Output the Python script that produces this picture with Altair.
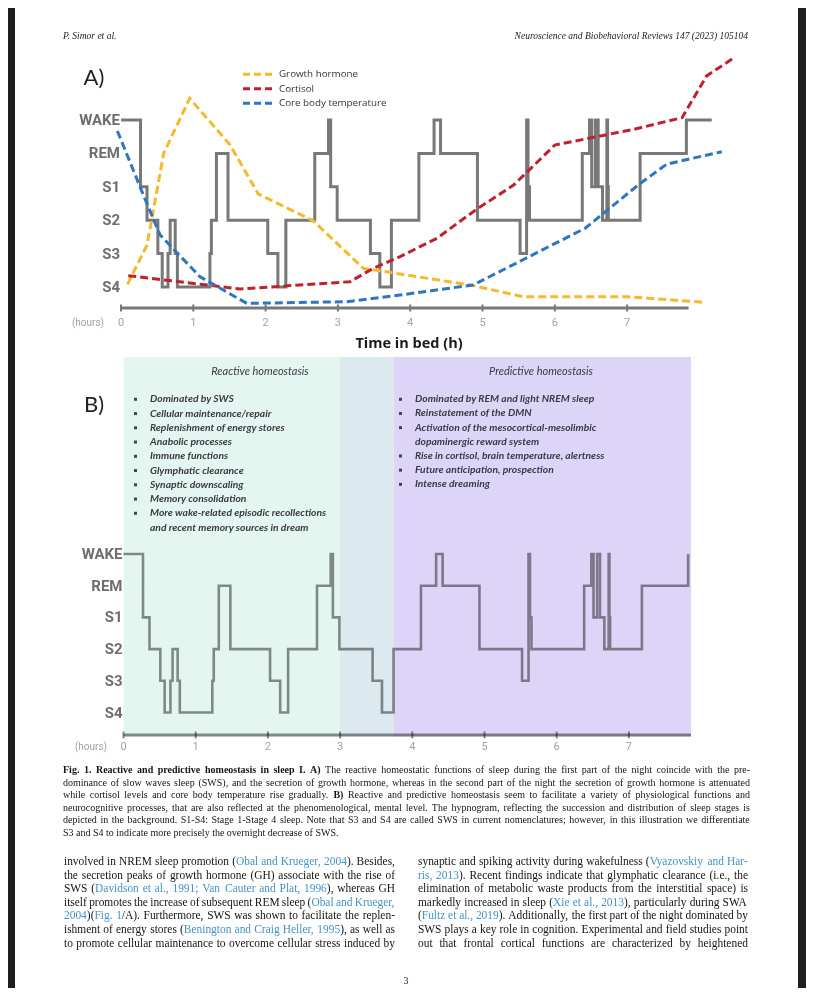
import altair as alt
import pandas as pd

# ---------------- data ----------------
STAGES = ["WAKE", "REM", "S1", "S2", "S3", "S4"]

hyp_hours = [0.00, 0.27, 0.36, 0.51, 0.57, 0.65, 0.68, 0.75, 0.78, 1.23, 1.25, 1.32, 1.48, 2.03,
             2.17, 2.28, 2.68, 2.87, 2.90, 2.99, 3.45, 3.58, 3.74, 4.12, 4.33, 4.42, 4.93, 5.52,
             5.61, 5.63, 5.65, 6.38, 6.48, 6.51, 6.56, 6.60, 6.66, 6.72, 6.73, 6.74, 7.18, 7.82]
hyp_stage = ["WAKE", "S1", "S2", "S3", "S4", "S3", "S2", "S3", "S4", "S3", "S2", "REM", "S2", "S3",
             "S4", "S2", "REM", "WAKE", "S1", "S2", "S3", "S4", "S2", "REM", "WAKE", "REM", "S2", "S3",
             "WAKE", "S1", "S2", "REM", "WAKE", "S1", "WAKE", "S1", "S2", "WAKE", "S1", "S2", "REM", "WAKE"]
hyp_tail_a = 8.17          # panel A: wake continues to here
axis_end_a = 7.85
axis_end_b = 7.86

series_names = ["Growth hormone", "Cortisol", "Core body temperature"]
series_colors = ["#f4b92c", "#c0222c", "#2e76bf"]
gh_hours = [0.09, 0.36, 0.42, 0.59, 0.95, 1.51, 1.90, 2.66, 3.35, 3.86, 4.83, 5.56, 7.00, 8.08]
gh_level = [4.92, 3.74, 3.04, 1.00, -0.65, 0.75, 2.22, 3.02, 4.44, 4.61, 4.94, 5.29, 5.29, 5.46]
cort_hours = [0.10, 1.65, 3.17, 3.49, 3.86, 4.37, 4.92, 5.43, 6.00, 7.09, 7.76, 8.10, 8.49]
cort_level = [4.66, 5.06, 4.84, 4.44, 4.09, 3.54, 2.67, 1.95, 0.75, 0.28, -0.07, -1.32, -1.88]
temp_hours = [-0.05, 0.31, 0.54, 1.09, 1.74, 3.12, 3.86, 4.87, 6.42, 7.18, 7.55, 8.31]
temp_level = [0.33, 2.25, 3.44, 4.69, 5.49, 5.44, 5.24, 4.94, 3.24, 1.90, 1.32, 0.95]

hour_ticks = [0, 1, 2, 3, 4, 5, 6, 7]

region_names = ["Reactive", "Overlap", "Predictive"]
region_start = [0.0, 3.0, 3.74]
region_end = [3.0, 3.74, 7.86]
region_colors = ["#e3f7f0", "#dce9ee", "#ddd5f7"]

reactive_title = "Reactive homeostasis"
predictive_title = "Predictive homeostasis"
reactive_lines = ["Dominated by SWS", "Cellular maintenance/repair", "Replenishment of energy stores",
                  "Anabolic processes", "Immune functions", "Glymphatic clearance",
                  "Synaptic downscaling", "Memory consolidation",
                  "More wake-related episodic recollections", "and recent memory sources in dream"]
reactive_bullet = [1, 1, 1, 1, 1, 1, 1, 1, 1, 0]
predictive_lines = ["Dominated by REM and light NREM sleep", "Reinstatement of the DMN",
                    "Activation of the mesocortical-mesolimbic", "dopaminergic reward system",
                    "Rise in cortisol, brain temperature, alertness", "Future anticipation, prospection",
                    "Intense dreaming"]
predictive_bullet = [1, 1, 1, 0, 1, 1, 1]

header_left = "P. Simor et al."
header_right = "Neuroscience and Biobehavioral Reviews 147 (2023) 105104"

caption_lines = [
    "*Fig. 1. Reactive and predictive homeostasis in sleep I. A)* The reactive homeostatic functions of sleep during the first part of the night coincide with the pre-",
    "dominance of slow waves sleep (SWS), and the secretion of growth hormone, whereas in the second part of the night the secretion of growth hormone is attenuated",
    "while cortisol levels and core body temperature rise gradually. *B)* Reactive and predictive homeostasis seem to facilitate a variety of physiological functions and",
    "neurocognitive processes, that are also reflected at the phenomenological, mental level. The hypnogram, reflecting the succession and distribution of sleep stages is",
    "depicted in the background. S1-S4: Stage 1-Stage 4 sleep. Note that S3 and S4 are called SWS in current nomenclatures; however, in this illustration we differentiate",
    "S3 and S4 to indicate more precisely the overnight decrease of SWS.",
]
body_left = [
    "involved in NREM sleep promotion ({Obal and Krueger, 2004}). Besides,",
    "the secretion peaks of growth hormone (GH) associate with the rise of",
    "SWS ({Davidson et al., 1991; Van Cauter and Plat, 1996}), whereas GH",
    "itself promotes the increase of subsequent REM sleep ({Obal and Krueger,}",
    "{2004})({Fig. 1}/A). Furthermore, SWS was shown to facilitate the replen-",
    "ishment of energy stores ({Benington and Craig Heller, 1995}), as well as",
    "to promote cellular maintenance to overcome cellular stress induced by",
]
body_right = [
    "synaptic and spiking activity during wakefulness ({Vyazovskiy and Har-}",
    "{ris, 2013}). Recent findings indicate that glymphatic clearance (i.e., the",
    "elimination of metabolic waste products from the interstitial space) is",
    "markedly increased in sleep ({Xie et al., 2013}), particularly during SWA",
    "({Fultz et al., 2019}). Additionally, the first part of the night dominated by",
    "SWS plays a key role in cognition. Experimental and field studies point",
    "out that frontal cortical functions are characterized by heightened",
]
page_number = "3"

# ---------------- layout ----------------
W, H = 798, 980
OX, OY = 8, 8
PX = alt.Scale(domain=[0, 814], range=[-OX, 814 - OX], nice=False)
PY = alt.Scale(domain=[0, 1000], range=[-OY, 1000 - OY], nice=False)

A0, AHW = 121.0, 72.3          # panel A: x of hour 0, px per hour
AY0, ASTEP = 120.0, 33.4       # panel A: y of WAKE, px per stage
B0, BHW = 123.5, 72.2
BY0, BSTEP = 554.0, 31.7

AX = alt.Scale(domain=[0, 8], range=[A0 - OX, A0 + 8 * AHW - OX], nice=False)
AY = alt.Scale(domain=[0, 5], range=[AY0 - OY, AY0 + 5 * ASTEP - OY], nice=False)
BX = alt.Scale(domain=[0, 8], range=[B0 - OX, B0 + 8 * BHW - OX], nice=False)
BY = alt.Scale(domain=[0, 5], range=[BY0 - OY, BY0 + 5 * BSTEP - OY], nice=False)

GRAY = "#787878"
LABEL_FONT = "Liberation Sans Narrow, Roboto, Liberation Sans"
TICK_FONT = "Liberation Sans Narrow, Roboto, Liberation Sans"
SERIF = "Liberation Serif"
LIST_FONT = "Lato"


def one(v="x"):
    return pd.DataFrame({"t": [v]})


def label(text, x, y, **kw):
    return alt.Chart(one(text)).mark_text(**kw).encode(
        x=alt.value(x - OX), y=alt.value(y - OY), text="t:N")


layers = []

# dark viewer strips
for x0, x1 in [(0, 15), (798, 814)]:
    layers.append(alt.Chart(one()).mark_rect(color="#1f1f1f").encode(
        x=alt.value(max(x0 - OX, 0)), x2=alt.value(min(x1 - OX, W)), y=alt.value(0), y2=alt.value(H)))

# ---------------- panel A ----------------
lvl = {s: i for i, s in enumerate(STAGES)}
hypA = pd.DataFrame({"hour": hyp_hours + [hyp_tail_a],
                     "level": [lvl[s] for s in hyp_stage] + [0]})
hypA["i"] = range(len(hypA))
layers.append(alt.Chart(hypA).mark_line(interpolate="step-after", color=GRAY, strokeWidth=3).encode(
    x=alt.X("hour:Q", scale=AX, axis=None), y=alt.Y("level:Q", scale=AY, axis=None), order="i:Q"))

stage_df = pd.DataFrame({"stage": STAGES, "level": list(range(6))})
layers.append(alt.Chart(stage_df).mark_text(align="right", baseline="middle", font=LABEL_FONT,
                                            fontSize=15, fontWeight="bold", color="#6e6e6e").encode(
    x=alt.value(A0 - OX - 1), y=alt.Y("level:Q", scale=AY, axis=None), text="stage:N"))

axA = pd.DataFrame({"h0": [0.0], "h1": [axis_end_a]})
layers.append(alt.Chart(axA).mark_rule(color=GRAY, strokeWidth=3).encode(
    x=alt.X("h0:Q", scale=AX, axis=None), x2="h1:Q", y=alt.value(308 - OY)))
tickdf = pd.DataFrame({"hour": hour_ticks})
layers.append(alt.Chart(tickdf).mark_rule(color=GRAY, strokeWidth=2).encode(
    x=alt.X("hour:Q", scale=AX, axis=None), y=alt.value(304.5 - OY), y2=alt.value(311.5 - OY)))
layers.append(alt.Chart(tickdf).mark_text(font=TICK_FONT, fontSize=11, color="#a2a2a2", baseline="middle").encode(
    x=alt.X("hour:Q", scale=AX, axis=None), y=alt.value(323 - OY), text=alt.Text("hour:Q")))
layers.append(label("(hours)", 88, 323, font=TICK_FONT, fontSize=10, color="#a2a2a2", baseline="middle"))

curves = pd.concat([
    pd.DataFrame({"series": n, "hour": h, "level": l, "i": range(len(h))})
    for n, h, l in zip(series_names, [gh_hours, cort_hours, temp_hours], [gh_level, cort_level, temp_level])
])
cscale = alt.Scale(domain=series_names, range=series_colors)
layers.append(alt.Chart(curves).mark_line(strokeDash=[8, 4], strokeWidth=3).encode(
    x=alt.X("hour:Q", scale=AX, axis=None), y=alt.Y("level:Q", scale=AY, axis=None),
    color=alt.Color("series:N", scale=cscale, legend=None), detail="series:N", order="i:Q"))

legdf = pd.DataFrame({"series": series_names, "i": [0, 1, 2]})
legy = alt.Scale(domain=[0, 2], range=[74.3 - OY, 103.3 - OY], nice=False)
layers.append(alt.Chart(legdf).mark_rule(strokeDash=[7, 4], strokeWidth=3).encode(
    x=alt.value(243 - OX), x2=alt.value(272 - OX), y=alt.Y("i:Q", scale=legy, axis=None),
    color=alt.Color("series:N", scale=cscale, legend=None)))
layers.append(alt.Chart(legdf).mark_text(align="left", baseline="middle", font="Open Sans",
                                         fontSize=9.8, color="#333333").encode(
    x=alt.value(279 - OX), y=alt.Y("i:Q", scale=legy, axis=None), text="series:N"))

layers.append(label("A)", 94, 78, font="Lato", fontSize=22, color="#222222", baseline="middle"))
layers.append(label("Time in bed (h)", 409, 344, font="Open Sans", fontSize=14.5, fontWeight="bold",
                    color="#1a1a1a", baseline="middle"))

# ---------------- panel B ----------------
regdf = pd.DataFrame({"region": region_names, "h0": region_start, "h1": region_end})
layers.append(alt.Chart(regdf).mark_rect().encode(
    x=alt.X("h0:Q", scale=BX, axis=None), x2="h1:Q", y=alt.value(357 - OY), y2=alt.value(736.5 - OY),
    color=alt.Color("region:N", scale=alt.Scale(domain=region_names, range=region_colors), legend=None)))

hypB = pd.DataFrame({"hour": hyp_hours, "level": [lvl[s] for s in hyp_stage]})
hypB["i"] = range(len(hypB))
layers.append(alt.Chart(hypB).mark_line(interpolate="step-after", color="#8f8f8f", strokeWidth=2.6,
                                        blend="multiply").encode(
    x=alt.X("hour:Q", scale=BX, axis=None), y=alt.Y("level:Q", scale=BY, axis=None), order="i:Q"))
layers.append(alt.Chart(stage_df).mark_text(align="right", baseline="middle", font=LABEL_FONT,
                                            fontSize=15, fontWeight="bold", color="#6e6e6e").encode(
    x=alt.value(B0 - OX - 1), y=alt.Y("level:Q", scale=BY, axis=None), text="stage:N"))
axB = pd.DataFrame({"h0": [0.0], "h1": [axis_end_b]})
layers.append(alt.Chart(axB).mark_rule(color="#8f8f8f", strokeWidth=3, blend="multiply").encode(
    x=alt.X("h0:Q", scale=BX, axis=None), x2="h1:Q", y=alt.value(735 - OY)))
layers.append(alt.Chart(tickdf).mark_rule(color="#8f8f8f", strokeWidth=2, blend="multiply").encode(
    x=alt.X("hour:Q", scale=BX, axis=None), y=alt.value(731.5 - OY), y2=alt.value(738.5 - OY)))
layers.append(alt.Chart(tickdf).mark_text(font=TICK_FONT, fontSize=11, color="#a2a2a2", baseline="middle").encode(
    x=alt.X("hour:Q", scale=BX, axis=None), y=alt.value(747 - OY), text=alt.Text("hour:Q")))
layers.append(label("(hours)", 91, 747, font=TICK_FONT, fontSize=10, color="#a2a2a2", baseline="middle"))
layers.append(label("B)", 94, 405, font="Lato", fontSize=22, color="#222222", baseline="middle"))

TXT = "#3a3a46"
layers.append(label(reactive_title, 260, 372, font=LIST_FONT, fontSize=11, fontStyle="italic", color=TXT,
                    baseline="middle"))
layers.append(label(predictive_title, 541, 372, font=LIST_FONT, fontSize=11, fontStyle="italic", color=TXT,
                    baseline="middle"))


def list_layers(lines, bullets, bx, tx, y0, step):
    df = pd.DataFrame({"text": lines, "bullet": bullets, "i": range(len(lines))})
    ys = alt.Scale(domain=[0, 1], range=[y0 - OY, y0 + step - OY], nice=False)
    out = [alt.Chart(df).mark_text(align="left", baseline="middle", font=LIST_FONT, fontSize=10.3,
                                   fontStyle="italic", fontWeight="bold", color=TXT).encode(
        x=alt.value(tx - OX), y=alt.Y("i:Q", scale=ys, axis=None), text="text:N")]
    out.append(alt.Chart(df[df["bullet"] == 1]).mark_square(size=9, color="#444450", opacity=1).encode(
        x=alt.value(bx - OX), y=alt.Y("i:Q", scale=ys, axis=None)))
    return out


layers += list_layers(reactive_lines, reactive_bullet, 135.5, 150, 399.3, 14.25)
layers += list_layers(predictive_lines, predictive_bullet, 400.5, 415, 399.3, 14.17)

# ---------------- running text ----------------
TIMES = {}
for chars, w in [(" ", 250), ("!", 333), ("'", 333), ("()", 333), (",.", 250), ("-", 333), ("/", 278),
                 ("0123456789", 500), (":;", 278), ("A", 722), ("B", 667), ("C", 667), ("D", 722),
                 ("E", 611), ("F", 556), ("G", 722), ("H", 722), ("I", 333), ("J", 389), ("K", 722),
                 ("L", 611), ("M", 889), ("N", 722), ("O", 722), ("P", 556), ("Q", 722), ("R", 667),
                 ("S", 556), ("T", 611), ("U", 722), ("V", 722), ("W", 944), ("X", 722), ("Y", 722),
                 ("Z", 611), ("a", 444), ("b", 500), ("c", 444), ("d", 500), ("e", 444), ("f", 333),
                 ("g", 500), ("h", 500), ("i", 278), ("j", 278), ("k", 500), ("l", 278), ("m", 778),
                 ("n", 500), ("o", 500), ("p", 500), ("q", 500), ("r", 333), ("s", 389), ("t", 278),
                 ("u", 500), ("v", 500), ("w", 722), ("x", 500), ("y", 500), ("z", 444)]:
    for c in chars:
        TIMES[c] = w
TIMES_B = dict(TIMES)
for chars, w in [("bdhknpqu", 556), ("a", 500), ("m", 833), ("r", 444), ("t", 333), ("j", 333),
                 ("CDNRU", 722), ("EF", 667), ("GHK", 778), ("I", 389)]:
    for c in chars:
        TIMES_B[c] = w
TIMES_B["F"] = 611


def parse_markup(s):
    segs, buf, style = [], "", "n"
    for ch in s:
        if ch in "{}*":
            if buf:
                segs.append((buf, style))
                buf = ""
            if ch == "{":
                style = "l"
            elif ch == "}":
                style = "n"
            else:
                style = "n" if style == "b" else "b"
        else:
            buf += ch
    if buf:
        segs.append((buf, style))
    return segs


def split_words(segs):
    words = [[]]
    for text, st in segs:
        for k, p in enumerate(text.split(" ")):
            if k > 0:
                words.append([])
            if p:
                words[-1].append((p, st))
    return [w for w in words if w]


def em_width(text, st):
    table = TIMES_B if st == "b" else TIMES
    return sum(table.get(c, 500) for c in text) / 1000.0


def fit_size(lines, avail, target, justify_last):
    s = target
    for li, line in enumerate(lines):
        if not justify_last and li == len(lines) - 1:
            continue
        words = split_words(parse_markup(line))
        em = sum(em_width(t, st) for w in words for t, st in w) + 0.2 * (len(words) - 1)
        s = min(s, avail / em)
    return s


def layout_block(lines, x0, x1, y0, lh, size, justify_last):
    rows = []
    for li, line in enumerate(lines):
        words = split_words(parse_markup(line))
        widths = [sum(em_width(t, st) for t, st in w) * size for w in words]
        justify = justify_last or li < len(lines) - 1
        gap = (x1 - x0 - sum(widths)) / (len(words) - 1) if (justify and len(words) > 1) else 0.25 * size
        x = x0
        for w, wd in zip(words, widths):
            xx = x
            for t, st in w:
                rows.append({"x": xx, "y": y0 + li * lh, "text": t, "style": st})
                xx += em_width(t, st) * size
            x += wd + gap
    return pd.DataFrame(rows)


def text_layers(df, size, link_color="#4592c6"):
    out = []
    for st, weight, color in [("n", "normal", "#141414"), ("b", "bold", "#141414"), ("l", "normal", link_color)]:
        sub = df[df["style"] == st]
        if len(sub) == 0:
            continue
        out.append(alt.Chart(sub).mark_text(align="left", baseline="middle", font=SERIF, fontSize=size,
                                            fontWeight=weight, color=color).encode(
            x=alt.X("x:Q", scale=PX, axis=None), y=alt.Y("y:Q", scale=PY, axis=None), text="text:N"))
    return out


cap_size = fit_size(caption_lines, 750 - 63, 10.0, False)
layers += text_layers(layout_block(caption_lines, 63, 750, 770, 12.6, cap_size, False), cap_size)
bl_size = fit_size(body_left, 395 - 64, 11.5, True)
br_size = fit_size(body_right, 748 - 418, 11.5, True)
bsize = min(bl_size, br_size)
layers += text_layers(layout_block(body_left, 64, 395, 862, 13.6, bsize, True), bsize)
layers += text_layers(layout_block(body_right, 418, 748, 862, 13.6, bsize, True), bsize)

layers.append(label(header_left, 63, 36, font=SERIF, fontSize=9.5, fontStyle="italic", color="#222222",
                    align="left", baseline="middle"))
layers.append(label(header_right, 748, 36, font=SERIF, fontSize=9.5, fontStyle="italic", color="#222222",
                    align="right", baseline="middle"))
layers.append(label(page_number, 406, 981, font=SERIF, fontSize=10, color="#222222", baseline="middle"))

chart = alt.layer(*layers).resolve_scale(x="independent", y="independent", color="independent").properties(
    width=W, height=H, padding=0, autosize=alt.AutoSizeParams(type="none"), background="white"
).configure_view(stroke=None)

chart.save("out.html", embed_options={"renderer": "svg", "actions": False})
